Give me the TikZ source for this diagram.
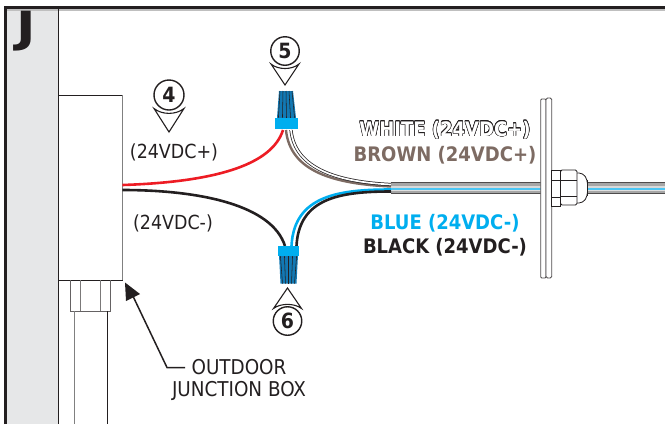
\documentclass[tikz,border=0pt]{standalone}
\usepackage{fontspec}
\setmainfont{DejaVu Sans Condensed}
\usepackage[copies]{contour}
\usetikzlibrary{positioning}
\definecolor{inkdark}{HTML}{231F20}
\definecolor{panelgray}{HTML}{E6E7E8}
\definecolor{wirered}{HTML}{ED1C24}
\definecolor{wireblue}{HTML}{00AEEF}
\definecolor{wirebrown}{HTML}{7D6B63}
\definecolor{ribblue}{HTML}{1279B4}
\contourlength{0.5pt}
\begin{document}
\begin{tikzpicture}
[x=1pt, y=-1pt,
plainlabel/.style={text=inkdark, font=\fontsize{19.4}{22}\selectfont, inner sep=0pt, align=center},
boldlabel/.style={font=\fontsize{20}{22}\selectfont\bfseries, inner sep=0pt},
tagnode/.style={circle, draw=inkdark, fill=white, line width=1.4pt, minimum size=28.5pt, inner sep=0pt, font=\fontsize{21}{22}\selectfont\bfseries, text=inkdark},
chevron/.style={draw=inkdark, fill=white, line width=1.1pt, line join=miter},
thinline/.style={draw=inkdark, line width=0.8pt},
wire/.style={line width=2.6pt},
]
\useasboundingbox (0,0) rectangle (665,424);
% panel frame
\fill[panelgray] (7,9) rectangle (58,424);
\fill[gray!50] (7,9) rectangle (665,10.5);
\draw[inkdark, line width=3pt] (5,424) -- (5,7) -- (665,7);
\draw[thinline] (58.5,9) -- (58.5,424);
\node[font=\fontsize{43}{43}\selectfont\bfseries, text=inkdark, inner sep=0pt, xscale=1.35] (panel) at (26.5,31) {J};

% junction box and conduit
\node[draw=inkdark, line width=0.8pt, minimum width=63.5pt, minimum height=184.5pt, inner sep=0pt] (jbox) at (90.25,187.75) {};
\draw[gray, line width=1.2pt] (jbox.north east) -- (jbox.south east);
\draw[thinline, draw=inkdark!70] (70.5,280) -- (70.5,311) -- (110,311) -- (110,280);
\draw[thinline, draw=inkdark!60] (80.5,280) -- (80.5,311);
\draw[thinline, draw=inkdark!60] (100.5,280) -- (100.5,311);
\draw[gray, line width=1pt] (74,311) -- (74,424);
\draw[thinline] (107,311) -- (107,424);

% cable, plate and gland
\coordinate (cablein) at (391,187.5);
\fill[gray!70] (391,182) rectangle (665,193);
\fill[gray!30] (391,186) rectangle (665,187.5);
\fill[wireblue!70] (391,187.5) rectangle (665,189.5);
\fill[gray!25] (391,189.5) rectangle (665,191);
\draw[inkdark!80, line width=0.8pt] (391,182) -- (665,182);
\draw[inkdark!80, line width=0.8pt] (391,193) -- (665,193);

% wires
\coordinate (tiptop) at (283,130);
\coordinate (tipbot) at (285,246);
\draw[wire, wirered] ([yshift=2.75pt]jbox.east) .. controls (215,182) and (272,165) .. (tiptop);
\draw[wire, inkdark] ([yshift=-2.25pt]jbox.east) .. controls (200,190) and (272,205) .. (tipbot);
\draw[wirebrown, line width=2.4pt] (391,186.5) .. controls (335,184) and (290,172) .. (286,130);
\draw[inkdark, line width=3.2pt] (391,184.5) .. controls (340,182) and (295,170) .. (291,130);
\draw[white, line width=1.7pt] (391,184.5) .. controls (340,182) and (295,170) .. (291,130);
\draw[wire, wireblue] (391,189.5) .. controls (340,189.5) and (294,195) .. (291.5,246);
\draw[wire, inkdark] (391,191.5) .. controls (340,191.5) and (299,198) .. (296.5,246);

% wire nuts
\fill[ribblue] (279,91) -- (293,91) -- (296,118) -- (277,118) -- cycle;
\foreach \rib in {-6,-3,0,3,6}
  \draw[inkdark, line width=0.55pt] (286+\rib,91) -- (286.5+1.35*\rib,118);
\fill[wireblue] (275,118) rectangle (298,129);
\fill[ribblue] (280.5,283.5) -- (296.5,283.5) -- (298,255) -- (279,255) -- cycle;
\foreach \rib in {-6,-3,0,3,6}
  \draw[inkdark, line width=0.55pt] (288.5+\rib,283.5) -- (288.5+1.35*\rib,256);
\fill[wireblue] (277.5,245.5) rectangle (299,255.5);

% plate and gland
\draw[draw=inkdark!80, fill=white, line width=0.8pt, rounded corners=1pt] (540.7,99) rectangle (546,278);
\draw[draw=inkdark!80, fill=white, line width=0.8pt, rounded corners=1.5pt] (546,98) rectangle (551.7,278);
\draw[draw=inkdark, fill=white, line width=0.8pt, rounded corners=4pt] (577,173) -- (583,173) -- (587.5,180) -- (587.5,196) -- (583,203) -- (577,203);
\draw[inkdark, line width=1.5pt] (587.5,180) -- (587.5,196);
\draw[thinline, fill=white] (551.7,170) rectangle (560,206);
\draw[thinline] (551.7,180) -- (560,180) (551.7,197) -- (560,197);
\draw[thinline, fill=white, rounded corners=1.5pt] (560.5,170) rectangle (577,205);
\draw[thinline] (560.5,180) -- (577,180) (560.5,196) -- (577,196);

% callouts
\node[tagnode, minimum size=30pt] (tag4) at (169,95) {4};
\node[tagnode] (tag5) at (285,51) {5};
\node[tagnode] (tag6) at (287.5,321) {6};
\draw[chevron, shift={(tag4)}] (-15,13.5) .. controls (-7,20) and (7,20) .. (15,13.5) -- (0,37) -- cycle;
\draw[chevron, shift={(tag5)}] (-14,13) .. controls (-7,19) and (7,19) .. (14,13) -- (0,34) -- cycle;
\draw[chevron, shift={(tag6)}] (-14,-12.5) .. controls (-7,-18) and (7,-18) .. (14,-12.5) -- (0,-33) -- cycle;

% labels
\node[plainlabel] (plus) at (174,152) {(24VDC+)};
\node[plainlabel] (minus) at (173,223) {(24VDC-)};
\node[boldlabel] (white) at (445,130) {\contour{inkdark}{\textcolor{white}{WHITE (24VDC+)}}};
\node[boldlabel, text=wirebrown] (brown) at (445,155) {BROWN (24VDC+)};
\node[boldlabel, text=wireblue] (blue) at (445,223) {BLUE (24VDC-)};
\node[boldlabel, text=inkdark] (black) at (445,247) {BLACK (24VDC-)};
\node[plainlabel, font=\fontsize{20.4}{22}\selectfont] (jlabel) at (239,380) {OUTDOOR\\JUNCTION BOX};

\coordinate (jtip) at (125,282.5);
\coordinate (jarm) at (185,367.5);
\draw[inkdark, line width=1.5pt] (jarm) -- (167,367.5) -- (131,292);
\fill[inkdark] (jtip) -- (140,294) -- (126,301) -- cycle;
\end{tikzpicture}
\end{document}
